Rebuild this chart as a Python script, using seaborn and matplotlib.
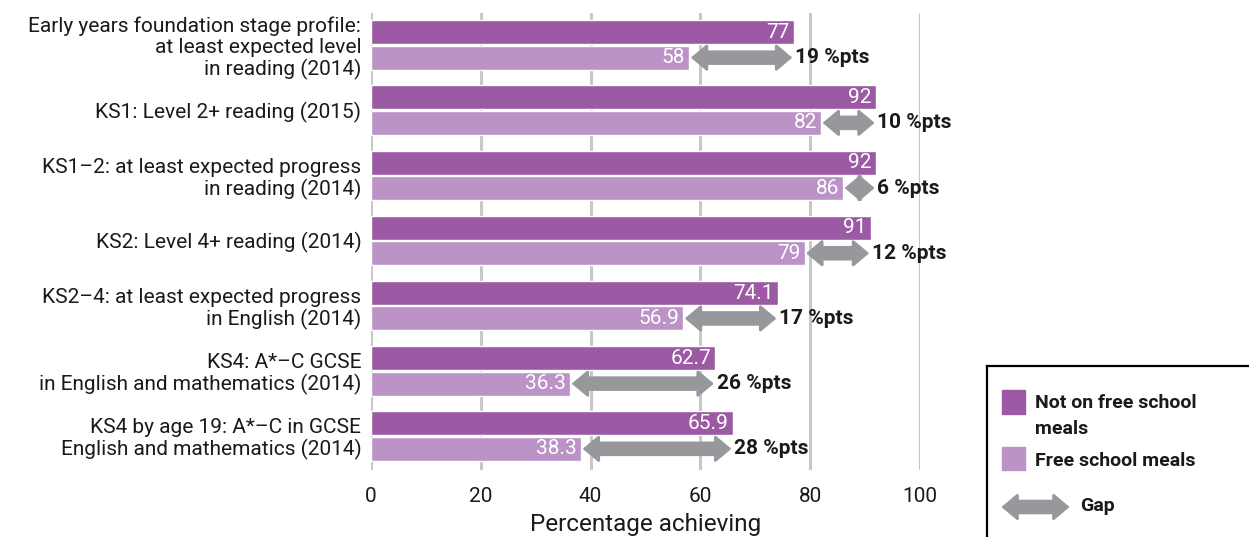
import matplotlib
matplotlib.use("Agg")
import matplotlib.pyplot as plt
import seaborn as sns
import pandas as pd
from matplotlib.patches import Rectangle

# Attainment measures and percentages for the two pupil groups
measures = [
    "Early years foundation stage profile:\nat least expected level\nin reading (2014)",
    "KS1: Level 2+ reading (2015)",
    "KS1\u20132: at least expected progress\nin reading (2014)",
    "KS2: Level 4+ reading (2014)",
    "KS2\u20134: at least expected progress\nin English (2014)",
    "KS4: A*\u2013C GCSE\nin English and mathematics (2014)",
    "KS4 by age 19: A*\u2013C in GCSE\nEnglish and mathematics (2014)",
]
not_fsm = [77, 92, 92, 91, 74.1, 62.7, 65.9]
fsm = [58, 82, 86, 79, 56.9, 36.3, 38.3]
gap_labels = ["19 %pts", "10 %pts", "6 %pts", "12 %pts", "17 %pts", "26 %pts", "28 %pts"]
groups = ["Not on free school meals", "Free school meals"]
x_ticks = [0, 20, 40, 60, 80, 100]

DARK = "#9b5aa3"
LIGHT = "#bb93c6"
GREY = "#97989b"
GRID = "#c8c8c8"
INK = "#1a1a1a"

sns.set_style("white")
plt.rcParams["font.family"] = ["Roboto", "DejaVu Sans"]

df = pd.DataFrame({
    "measure": measures * 2,
    "value": not_fsm + fsm,
    "group": [groups[0]] * len(measures) + [groups[1]] * len(measures),
})

fig = plt.figure(figsize=(12.49, 5.37), dpi=100)
ax = fig.add_axes([371 / 1249, 1 - 470 / 537, (920 - 371) / 1249, (470 - 13) / 537])

sns.barplot(
    data=df, x="value", y="measure", hue="group", hue_order=groups,
    palette=[DARK, LIGHT], orient="h", width=0.78, gap=0.06,
    saturation=1, legend=False, ax=ax, errorbar=None,
)

ax.set_xlim(0, 100)
ax.set_ylim(6.52, -0.49)
ax.set_xticks(x_ticks)
ax.set_xticklabels([str(t) for t in x_ticks])
for t in x_ticks:
    ax.axvline(t, color=GRID, lw=2.2, zorder=0)
for s in ax.spines.values():
    s.set_visible(False)
ax.tick_params(axis="x", length=0, pad=12, labelsize=15, labelcolor=INK)
ax.tick_params(axis="y", length=0, pad=7, labelsize=15, labelcolor=INK)
for lab in ax.get_yticklabels():
    lab.set_linespacing(1.12)
ax.set_ylabel("")
ax.set_xlabel("Percentage achieving", fontsize=17.5, labelpad=5, color=INK)


def gap_arrow(axis, x0, x1, y, coords="data"):
    """Double-headed grey arrow: a thick shaft plus two filled heads."""
    axis.annotate("", xy=(x1, y), xytext=(x0, y), xycoords=coords, textcoords=coords,
                  arrowprops=dict(arrowstyle="-", lw=10.5, color=GREY,
                                  shrinkA=8, shrinkB=8, capstyle="butt"),
                  zorder=5)
    axis.annotate("", xy=(x1, y), xytext=(x0, y), xycoords=coords, textcoords=coords,
                  arrowprops=dict(arrowstyle="<|-|>,head_length=0.5,head_width=0.42",
                                  mutation_scale=20, lw=2, color=GREY,
                                  shrinkA=1, shrinkB=1, joinstyle="round"),
                  zorder=5)


# value labels inside the bar ends
for cont, vals in zip(ax.containers, [not_fsm, fsm]):
    for bar, v in zip(cont, vals):
        yc = bar.get_y() + bar.get_height() / 2
        ax.annotate(f"{v:g}", xy=(v, yc), xytext=(-3, 0), textcoords="offset points",
                    ha="right", va="center", color="white", fontsize=15)

# gap arrows between the two groups on the free school meals bar
for bar, a, b, lab in zip(ax.containers[1], fsm, not_fsm, gap_labels):
    yc = bar.get_y() + bar.get_height() / 2
    gap_arrow(ax, a, b, yc)
    ax.annotate(lab, xy=(b, yc), xytext=(1, 0), textcoords="offset points",
                ha="left", va="center", color=INK, fontsize=15,
                fontweight="bold", zorder=6)

# legend panel
lw_, lh_ = 0.25, 1 - 366 / 537 + 0.05
lax = fig.add_axes([987 / 1249, -0.05, lw_, lh_])
lax.set_xlim(0, 1)
lax.set_ylim(0, 1)
lax.set_xticks([])
lax.set_yticks([])
for s in lax.spines.values():
    s.set_linewidth(1.6)
    s.set_color("black")
px = lambda x: (x - 987) / (lw_ * 1249)
py = lambda y: 1 - (y - 366) / (lh_ * 537)
lax.add_patch(Rectangle((px(1002), py(414)), px(1025) - px(1002), py(390) - py(414), color=DARK))
lax.add_patch(Rectangle((px(1002), py(470)), px(1025) - px(1002), py(447) - py(470), color=LIGHT))
leg_font = dict(va="center", ha="left", fontsize=14, fontweight="bold", color=INK)
lax.text(px(1035), py(403), "Not on free school", **leg_font)
lax.text(px(1035), py(429), "meals", **leg_font)
lax.text(px(1035), py(461), "Free school meals", **leg_font)
gap_arrow(lax, px(1000), px(1071), py(507))
lax.text(px(1080), py(506), "Gap", **leg_font)

fig.savefig("out.png", dpi=100)
